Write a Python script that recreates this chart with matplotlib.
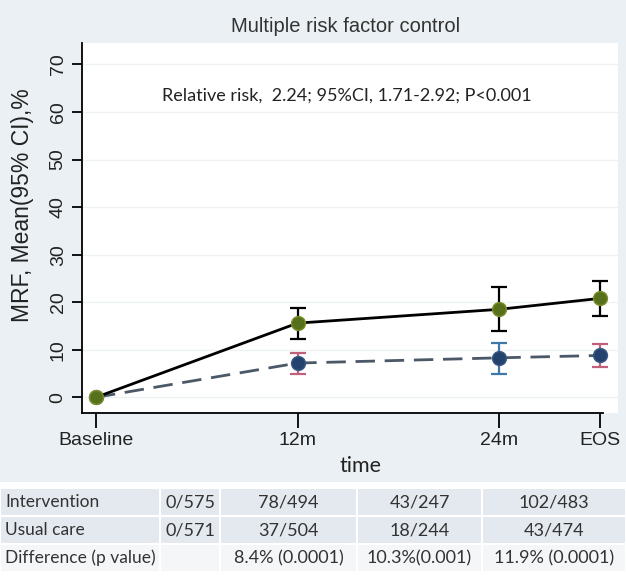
import numpy as np
import matplotlib
matplotlib.use("Agg")
import matplotlib.pyplot as plt
from matplotlib.patches import Rectangle

# ---- datos ----
time_pts = [0, 12, 24, 30]
time_labels = ["Baseline", "12m", "24m", "EOS"]

interv_mean = [0, 15.6, 18.5, 20.8]
interv_lo = [0, 12.3, 14.0, 17.1]
interv_hi = [0, 18.7, 23.2, 24.4]

usual_mean = [0, 7.2, 8.3, 8.8]
usual_lo = [0, 4.9, 5.0, 6.3]
usual_hi = [0, 9.3, 11.5, 11.3]

row_labels = ["Intervention", "Usual care", "Difference (p value)"]
col_base = ["0/575", "0/571", ""]
col_12m = ["78/494", "37/504", "8.4% (0.0001)"]
col_24m = ["43/247", "18/244", "10.3%(0.001)"]
col_eos = ["102/483", "43/474", "11.9% (0.0001)"]

W, H = 626, 579
bg = "#eaf0f3"

fig = plt.figure(figsize=(W / 100, H / 100), dpi=100, facecolor=bg)
ax = fig.add_axes([82 / W, 1 - 413 / H, 536 / W, 370 / H])
ax.set_facecolor("white")

# ---- series ----
x = np.array(time_pts)
ax.plot(x, usual_mean, color="#4b5868", lw=2, dashes=(7, 3.5), zorder=2)
bar_cols = ["#4b5868", "#c0607a", "#3f78a8", "#c0607a"]
for i in range(1, 4):
    ax.errorbar(x[i], usual_mean[i],
                yerr=[[usual_mean[i] - usual_lo[i]], [usual_hi[i] - usual_mean[i]]],
                fmt="none", ecolor=bar_cols[i], elinewidth=1.6, capsize=5.5, capthick=1.6, zorder=3)
ax.plot(x, usual_mean, "o", color="#24426e", mec="#3a5a85", ms=10, zorder=4)

ax.plot(x, interv_mean, color="black", lw=2, zorder=5)
ax.errorbar(x[1:], interv_mean[1:],
            yerr=[np.array(interv_mean[1:]) - np.array(interv_lo[1:]),
                  np.array(interv_hi[1:]) - np.array(interv_mean[1:])],
            fmt="none", ecolor="black", elinewidth=1.6, capsize=5.5, capthick=1.6, zorder=5)
ax.plot(x, interv_mean, "o", color="#56701c", mec="#7d8f2a", ms=10, zorder=6)

# ---- ejes ----
ax.set_xlim(-0.83, 31.07)
ax.set_ylim(-3.3, 74.5)
ax.set_xticks(time_pts)
ax.set_xticklabels(time_labels, fontsize=14, family="Liberation Sans", color="#222222")
ax.set_yticks(range(0, 80, 10))
ax.set_yticklabels([str(v) for v in range(0, 80, 10)], fontsize=14,
                   family="Liberation Sans", rotation=90, va="center", color="#222222")
ax.tick_params(axis="x", length=11, width=1.3, pad=3)
ax.tick_params(axis="y", length=7, width=1.3, pad=4)
ax.spines["top"].set_visible(False)
ax.spines["right"].set_visible(False)
ax.spines["left"].set_linewidth(1.3)
ax.spines["bottom"].set_linewidth(1.3)
ax.spines["bottom"].set_bounds(-0.83, 30.2)
ax.grid(axis="y", color="#edf1f4", lw=1)
ax.set_axisbelow(True)

fig.text(23 / W, 1 - 205 / H, "MRF, Mean(95% CI),%", rotation=90, ha="center", va="center",
         fontsize=16.5, family="Liberation Sans", color="#222222")
fig.text(360 / W, 1 - 466 / H, "time", ha="center", va="center",
         fontsize=15.5, family="Lato", color="#222222")
fig.text(346 / W, 1 - 27 / H, "Multiple risk factor control", ha="center", va="center",
         fontsize=14.5, family="Liberation Sans", color="#333333")
fig.text(347 / W, 1 - 96 / H, "Relative risk,  2.24; 95%CI, 1.71-2.92; P<0.001", ha="center",
         va="center", fontsize=13, family="Lato", color="#222222")

# ---- tabla ----
col_edges = [0, 160, 220, 357, 482, 626]
row_edges = [488, 516, 544, 572]
row_fill = ["#e3e9ef", "#e3e9ef", "#f4f6f8"]
cols = [row_labels, col_base, col_12m, col_24m, col_eos]
fig.patches.append(Rectangle((0, 0), 1, 1 - 482 / H, transform=fig.transFigure,
                             facecolor="white", edgecolor="none", zorder=0))
for r in range(3):
    y0, y1 = row_edges[r], row_edges[r + 1]
    for c in range(5):
        x0, x1 = col_edges[c], col_edges[c + 1]
        fig.patches.append(Rectangle((x0 / W, 1 - y1 / H), (x1 - x0) / W, (y1 - y0) / H,
                                     transform=fig.transFigure, facecolor=row_fill[r],
                                     edgecolor="white", lw=1.5, zorder=1))
        txt = cols[c][r]
        if c == 0:
            fig.text(5 / W, 1 - (y0 + y1) / 2 / H, txt, ha="left", va="center",
                     fontsize=12.5, family="Lato", color="#333333")
        else:
            fig.text((x0 + x1) / 2 / W, 1 - (y0 + y1) / 2 / H, txt, ha="center", va="center",
                     fontsize=13, family="Lato", color="#333333")

fig.savefig("out.png", dpi=100, facecolor=bg)
